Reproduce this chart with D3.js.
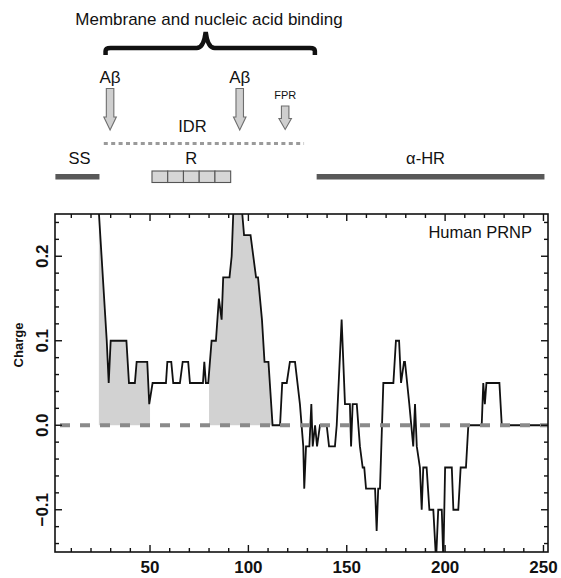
<!DOCTYPE html>
<html>
<head>
<meta charset="utf-8">
<script src="https://cdn.jsdelivr.net/npm/d3@7"></script>
<style>
  html, body { margin: 0; padding: 0; background: #fff; }
  svg { display: block; }
  text { font-family: "Liberation Sans", Arial, Helvetica, sans-serif; }
</style>
</head>
<body>
<svg id="chart" width="561" height="578"></svg>
<script>
// ---------------- data ----------------
const residues = [23, 28, 29, 30, 38, 39.3, 42.3, 43.2, 48.6, 49.6, 51.3, 58.1, 58.8, 60.8, 61.8, 65.2, 66.6, 69.4, 70.3, 76.9, 77.6, 78.4, 79.6, 81.3, 83.5, 85, 86.4, 87.2, 90.4, 91.5, 92.3, 94.7, 96.9, 97.8, 101.1, 103.9, 104.9, 106.9, 108.2, 110.2, 112.3, 116.1, 117.2, 119.5, 121.1, 123.7, 126.2, 127.9, 128.4, 129.3, 131, 132, 132.7, 133.9, 134.9, 136.4, 139.8, 141, 144, 144.9, 147.4, 149.1, 151.6, 152.2, 153, 155.1, 156.7, 158.1, 158.9, 159.8, 164.4, 165.2, 166, 166.9, 168.6, 173.7, 175, 176.6, 177.6, 179.1, 179.6, 181.8, 183.8, 184.7, 185.6, 187.2, 188.1, 188.9, 190.6, 192, 194, 195.4, 196.5, 198.3, 199.1, 200, 203.4, 204.2, 206.7, 207.9, 210.6, 211.8, 218.6, 219.4, 220.2, 221, 222, 227.6, 228.8, 253];
const charges  = [0.29, 0.1, 0.05, 0.1, 0.1, 0.05, 0.05, 0.075, 0.075, 0.025, 0.05, 0.05, 0.075, 0.075, 0.05, 0.05, 0.075, 0.075, 0.05, 0.05, 0.075, 0.05, 0.05, 0.1, 0.1, 0.15, 0.125, 0.175, 0.175, 0.2, 0.25, 0.3, 0.25, 0.225, 0.225, 0.175, 0.175, 0.125, 0.075, 0.075, 0, 0, 0.05, 0.05, 0.075, 0.075, 0.025, -0.025, -0.075, -0.025, -0.025, 0.025, -0.025, 0, -0.025, 0, 0, -0.025, -0.025, 0, 0.125, 0.025, 0.025, -0.025, 0.025, 0.025, -0.025, -0.05, -0.05, -0.075, -0.075, -0.125, -0.075, -0.075, 0.05, 0.05, 0.1, 0.1, 0.05, 0.075, 0.075, 0.025, -0.025, 0.025, -0.025, -0.05, -0.1, -0.05, -0.05, -0.1, -0.1, -0.16, -0.1, -0.1, -0.16, -0.05, -0.05, -0.1, -0.1, -0.05, -0.05, 0, 0, 0.05, 0.025, 0.05, 0.05, 0.05, 0, 0];

const shadeStart = [24, 80];
const shadeEnd   = [50, 112.3];

const xDomain = [1.7, 252.3];
const yDomain = [-0.15, 0.25];
const xMajorTicks = [50, 100, 150, 200, 250];
const xMinorTicks = d3.range(10, 251, 10);
const yMajorTicks = [-0.1, 0.0, 0.1, 0.2];
const yMajorLabels = ["\u22120.1", "0.0", "0.1", "0.2"];
const yMinorTicks = d3.range(-7, 13).map(i => i * 0.02);

// domain annotation (residue ranges)
const ssRange   = [1.9, 24.3];
const rRange    = [51, 91];
const rCells    = 5;
const hrRange   = [134.7, 250.5];
const idrRange  = [26.5, 128.3];
const braceRange = [27.4, 133.8];
const braceMid  = 78.3;
const abetaSites = [29.7, 95.6];
const fprSite   = 118.7;

// ---------------- layout ----------------
const svg = d3.select("#chart");
const L = 55, R = 548, T = 214, B = 552;
const x = d3.scaleLinear().domain(xDomain).range([L, R]);
const y = d3.scaleLinear().domain(yDomain).range([B, T]);

svg.append("defs").append("clipPath").attr("id", "plotclip")
  .append("rect").attr("x", L).attr("y", T).attr("width", R - L).attr("height", B - T);

const pts = residues.map((r, i) => [r, charges[i]]);
function interp(r) {
  for (let i = 0; i < residues.length - 1; i++) {
    if (r >= residues[i] && r <= residues[i + 1]) {
      const t = (r - residues[i]) / (residues[i + 1] - residues[i]);
      return charges[i] + t * (charges[i + 1] - charges[i]);
    }
  }
  return 0;
}

const plot = svg.append("g").attr("clip-path", "url(#plotclip)");

// shaded areas
const poly = d3.line().x(d => x(d[0])).y(d => y(d[1]));
shadeStart.forEach((a, k) => {
  const b = shadeEnd[k];
  const p = [[a, 0], [a, interp(a)]];
  pts.forEach(d => { if (d[0] > a && d[0] < b) p.push(d); });
  p.push([b, interp(b)], [b, 0]);
  plot.append("path").attr("d", poly(p) + "Z").attr("fill", "#d2d2d2").attr("stroke", "none");
});

// line
plot.append("path")
  .attr("d", d3.line().x(d => x(d[0])).y(d => y(d[1]))(pts))
  .attr("fill", "none").attr("stroke", "#111").attr("stroke-width", 1.8)
  .attr("stroke-linejoin", "miter");

// zero dashed line
plot.append("line")
  .attr("x1", L).attr("x2", R).attr("y1", y(0)).attr("y2", y(0))
  .attr("stroke", "#8a8a8a").attr("stroke-width", 4)
  .attr("stroke-dasharray", "10,10").attr("stroke-dashoffset", 15);

// frame
svg.append("rect").attr("x", L).attr("y", T).attr("width", R - L).attr("height", B - T)
  .attr("fill", "none").attr("stroke", "#111").attr("stroke-width", 1.6);

// ticks (inward, all four sides)
const tk = svg.append("g").attr("stroke", "#111").attr("stroke-width", 1.4);
xMinorTicks.forEach(v => {
  const major = xMajorTicks.includes(v);
  const len = major ? 7 : 4;
  tk.append("line").attr("x1", x(v)).attr("x2", x(v)).attr("y1", B).attr("y2", B - len);
  tk.append("line").attr("x1", x(v)).attr("x2", x(v)).attr("y1", T).attr("y2", T + len);
});
yMinorTicks.forEach(v => {
  const major = yMajorTicks.some(m => Math.abs(m - v) < 1e-9);
  const len = major ? 7 : 4;
  tk.append("line").attr("x1", L).attr("x2", L + len).attr("y1", y(v)).attr("y2", y(v));
  tk.append("line").attr("x1", R).attr("x2", R - len).attr("y1", y(v)).attr("y2", y(v));
});

// tick labels
xMajorTicks.forEach(v => {
  svg.append("text").attr("x", x(v)).attr("y", 573)
    .attr("text-anchor", "middle").attr("font-size", 17).attr("font-weight", "bold")
    .attr("fill", "#111").text(v);
});
yMajorTicks.forEach((v, i) => {
  svg.append("text").attr("transform", `translate(48,${y(v)}) rotate(-90)`)
    .attr("text-anchor", "middle").attr("font-size", 17).attr("font-weight", "bold")
    .attr("fill", "#111").text(yMajorLabels[i]);
});
svg.append("text").attr("transform", `translate(23,345) rotate(-90)`)
  .attr("text-anchor", "middle").attr("font-size", 13).attr("font-weight", "bold")
  .attr("fill", "#111").text("Charge");

svg.append("text").attr("x", 532).attr("y", 237.5).attr("text-anchor", "end")
  .attr("font-size", 16.5).attr("fill", "#111").text("Human PRNP");

// ---------------- top annotation ----------------
svg.append("text").attr("x", 209).attr("y", 24.5).attr("text-anchor", "middle")
  .attr("font-size", 17).attr("fill", "#111").text("Membrane and nucleic acid binding");

// brace
const bx1 = x(braceRange[0]), bx2 = x(braceRange[1]), bm = x(braceMid);
const by = 48, btip = 32, bend = 55;
svg.append("path")
  .attr("d", `M${bx1},${bend} L${bx1},${by + 3} Q${bx1},${by} ${bx1 + 5},${by} L${bm - 9},${by} Q${bm - 2},${by} ${bm},${btip} Q${bm + 2},${by} ${bm + 9},${by} L${bx2 - 5},${by} Q${bx2},${by} ${bx2},${by + 3} L${bx2},${bend}`)
  .attr("fill", "none").attr("stroke", "#111").attr("stroke-width", 4.5);

// A-beta labels and arrows
function arrow(cx, y0, y1, y2) {
  const sw = 3.75, hw = 6.25;
  svg.append("path")
    .attr("d", `M${cx - sw},${y0} L${cx + sw},${y0} L${cx + sw},${y1} L${cx + hw},${y1} L${cx},${y2} L${cx - hw},${y1} L${cx - sw},${y1} Z`)
    .attr("fill", "#cfcfcf").attr("stroke", "#6e6e6e").attr("stroke-width", 1.1);
}
abetaSites.forEach(r => {
  svg.append("text").attr("x", x(r)).attr("y", 83).attr("text-anchor", "middle")
    .attr("font-size", 17).attr("fill", "#111").text("A\u03b2");
  arrow(x(r), 88.5, 117, 130);
});
svg.append("text").attr("x", x(fprSite)).attr("y", 98.5).attr("text-anchor", "middle")
  .attr("font-size", 11).attr("fill", "#111").text("FPR");
arrow(x(fprSite), 106, 118.5, 129.5);

// IDR
svg.append("text").attr("x", 192.5).attr("y", 132).attr("text-anchor", "middle")
  .attr("font-size", 16.5).attr("fill", "#111").text("IDR");
svg.append("line").attr("x1", x(idrRange[0])).attr("x2", x(idrRange[1]))
  .attr("y1", 143.5).attr("y2", 143.5)
  .attr("stroke", "#9a9a9a").attr("stroke-width", 3.2).attr("stroke-dasharray", "4,3.4");

// SS, R, alpha-HR
svg.append("text").attr("x", x((ssRange[0] + ssRange[1]) / 2) + 2).attr("y", 163.5).attr("text-anchor", "middle")
  .attr("font-size", 16.5).attr("fill", "#111").text("SS");
svg.append("text").attr("x", x((rRange[0] + rRange[1]) / 2)).attr("y", 163.5).attr("text-anchor", "middle")
  .attr("font-size", 16.5).attr("fill", "#111").text("R");
svg.append("text").attr("x", x((hrRange[0] + hrRange[1]) / 2) - 5).attr("y", 163.5).attr("text-anchor", "middle")
  .attr("font-size", 16.5).attr("fill", "#111").text("\u03b1-HR");

svg.append("rect").attr("x", x(ssRange[0])).attr("y", 174).attr("width", x(ssRange[1]) - x(ssRange[0]))
  .attr("height", 5.5).attr("fill", "#595959");
svg.append("rect").attr("x", x(hrRange[0])).attr("y", 174).attr("width", x(hrRange[1]) - x(hrRange[0]))
  .attr("height", 5.5).attr("fill", "#595959");
const cw = (x(rRange[1]) - x(rRange[0])) / rCells;
d3.range(rCells).forEach(i => {
  svg.append("rect").attr("x", x(rRange[0]) + i * cw).attr("y", 171).attr("width", cw).attr("height", 11.5)
    .attr("fill", "#d6d6d6").attr("stroke", "#555").attr("stroke-width", 1.1);
});
</script>
</body>
</html>
